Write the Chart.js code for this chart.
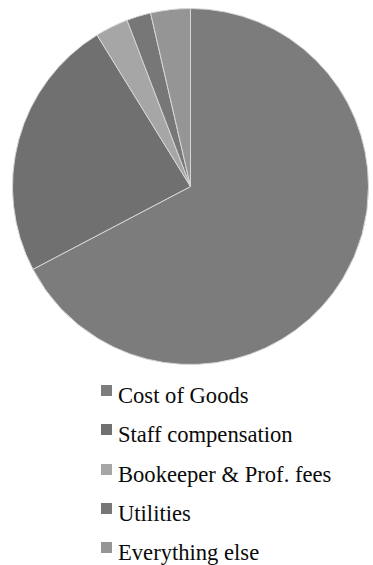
<!DOCTYPE html>
<html>
<head>
<meta charset="utf-8">
<script src="https://cdn.jsdelivr.net/npm/chart.js@4"></script>
<style>
  body { margin: 0; background: #fff; width: 373px; height: 565px; position: relative; overflow: hidden; }
  #chartBox { position: absolute; left: 12px; top: 8px; width: 357px; height: 357px; }
  #legend { position: absolute; left: 101px; top: 383px; margin: 0; padding: 0; list-style: none;
    font-family: "Liberation Serif", "DejaVu Serif", serif; font-size: 22.6px; color: #0a0a0a; }
  #legend li { height: 39.3px; line-height: 26px; white-space: nowrap; }
  #legend span { display: inline-block; width: 11px; height: 11px; margin-right: 6px; vertical-align: 7px; }
</style>
</head>
<body>
<div id="chartBox"><canvas id="pieChart" width="357" height="357"></canvas></div>
<ul id="legend"></ul>
<script>
const categories = ["Cost of Goods", "Staff compensation", "Bookeeper & Prof. fees", "Utilities", "Everything else"];
const shares = [67.3, 23.9, 3.0, 2.2, 3.6];
const sliceColors = ["#7c7c7c", "#707070", "#a6a6a6", "#777777", "#959595"];

const ctx = document.getElementById("pieChart").getContext("2d");

const pieChart = new Chart(ctx, {
  type: "pie",
  data: {
    labels: categories,
    datasets: [
      {
        data: shares,
        backgroundColor: sliceColors,
        borderColor: "#d6d6d6",
        borderWidth: 1,
        hoverOffset: 0,
      },
    ],
  },
  options: {
    responsive: false,
    animation: false,
    layout: { padding: 0 },
    plugins: {
      legend: { display: false },
      tooltip: { enabled: false },
    },
  },
});

// legend built by hand, one item per row
const legendList = document.getElementById("legend");
categories.forEach((label, i) => {
  const item = document.createElement("li");
  const box = document.createElement("span");
  box.style.backgroundColor = sliceColors[i];
  item.appendChild(box);
  item.appendChild(document.createTextNode(label));
  legendList.appendChild(item);
});
</script>
</body>
</html>
